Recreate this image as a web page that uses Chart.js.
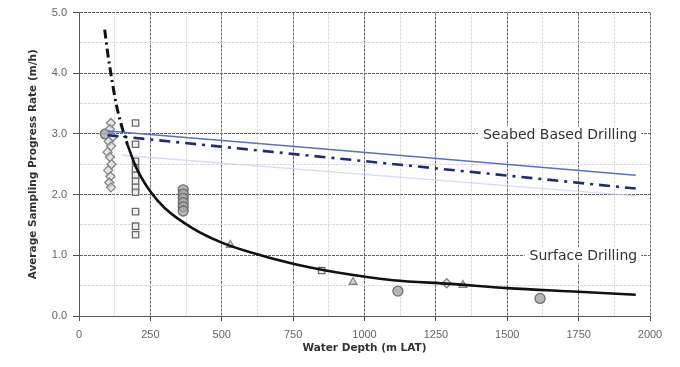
<!DOCTYPE html>
<html>
<head>
<meta charset="utf-8">
<script src="https://cdn.jsdelivr.net/npm/chart.js@4.4.1/dist/chart.umd.min.js"></script>
<style>
  html, body { margin: 0; padding: 0; background: #fff; }
  #wrap { width: 680px; height: 367px; }
</style>
</head>
<body>
<div id="wrap"><canvas id="myChart" width="680" height="367"></canvas></div>
<script>
// surface drilling trend
var surfDashDepth = [90, 100, 115, 130, 150, 170];
var surfDashRate = [4.72, 4.35, 3.9, 3.5, 3.12, 2.82];
var surfDepth = [170, 200, 250, 300, 400, 500, 600, 750, 900, 1100, 1300, 1500, 1750, 1950];
var surfRate = [2.82, 2.45, 2.05, 1.78, 1.44, 1.21, 1.05, 0.86, 0.72, 0.59, 0.53, 0.46, 0.4, 0.35];

// seabed drilling lines
var seabedDepth = [100, 1950];
var seabedSolid = [3.05, 2.32];
var seabedDashDot = [2.98, 2.1];
var faintDepth = [150, 1950];
var faintRate = [2.65, 1.98];

// measured points
var diamondDepth = [112, 108, 118, 104, 112, 100, 108, 114, 102, 110, 106, 112, 1288];
var diamondRate = [3.18, 3.08, 2.95, 2.88, 2.8, 2.7, 2.62, 2.5, 2.4, 2.3, 2.2, 2.12, 0.54];
var squareDepth = [198, 198, 198, 198, 198, 198, 198, 198, 198, 198, 198, 850];
var squareRate = [3.18, 2.83, 2.55, 2.42, 2.32, 2.22, 2.12, 2.04, 1.72, 1.48, 1.34, 0.75];
var circleDepth = [92, 365, 365, 365, 365, 365, 365, 1117, 1615];
var circleRate = [3.0, 2.08, 2.01, 1.94, 1.87, 1.8, 1.73, 0.41, 0.29];
var triangleDepth = [530, 960, 1345];
var triangleRate = [1.17, 0.56, 0.51];

var xTicks = [0, 250, 500, 750, 1000, 1250, 1500, 1750, 2000];
var yTicks = [0, 1, 2, 3, 4, 5];

function pts(xs, ys) {
  return xs.map(function (x, i) { return { x: x, y: ys[i] }; });
}

function lineSet(xs, ys, color, width, dash) {
  return {
    data: pts(xs, ys), showLine: true, pointRadius: 0, borderColor: color,
    borderWidth: width, borderDash: dash || [], cubicInterpolationMode: 'monotone',
    fill: false, order: 0
  };
}

function markSet(xs, ys, style, radius, border, bg) {
  return {
    data: pts(xs, ys), showLine: false, pointStyle: style, pointRadius: radius,
    borderColor: border, backgroundColor: bg, borderWidth: 1.3, order: 1
  };
}

// text labels sitting on the grid lines
var labelPlugin = {
  id: 'lineLabels',
  afterDatasetsDraw: function (chart) {
    var ctx = chart.ctx;
    var xs = chart.scales.x, ys = chart.scales.y;
    var items = [['Seabed Based Drilling', 3.0], ['Surface Drilling', 1.0]];
    ctx.save();
    ctx.font = '14px "DejaVu Sans", sans-serif';
    ctx.textAlign = 'right';
    ctx.textBaseline = 'middle';
    items.forEach(function (it) {
      var px = xs.getPixelForValue(1955);
      var py = ys.getPixelForValue(it[1]);
      var w = ctx.measureText(it[0]).width;
      ctx.fillStyle = '#fff';
      ctx.fillRect(px - w - 5, py - 8, w + 9, 16);
      ctx.fillStyle = '#333';
      ctx.fillText(it[0], px, py + 1);
    });
    ctx.restore();
  }
};

var gridColor = function (c) {
  return (c.tick && c.tick.label !== '') ? '#666' : '#dcdcdc';
};
var tickColor = function (c) {
  return (c.tick && c.tick.label !== '') ? '#555' : 'rgba(0,0,0,0)';
};

new Chart(document.getElementById('myChart'), {
  type: 'scatter',
  data: {
    datasets: [
      lineSet(surfDashDepth, surfDashRate, '#111', 3, [9, 4, 2, 4]),
      lineSet(surfDepth, surfRate, '#111', 2.6),
      lineSet(seabedDepth, seabedSolid, '#5b6fc4', 1.5),
      lineSet(seabedDepth, seabedDashDot, '#1f2b72', 2.6, [11, 6, 3, 6]),
      lineSet(faintDepth, faintRate, 'rgba(200,205,235,0.7)', 1.5),
      markSet(diamondDepth, diamondRate, 'rectRot', 4.5, '#858585', 'rgba(215,215,215,0.6)'),
      markSet(squareDepth, squareRate, 'rect', 4.5, '#6e6e6e', 'rgba(235,235,235,0.8)'),
      markSet(circleDepth, circleRate, 'circle', 5, '#6e6e6e', 'rgba(165,165,165,0.8)'),
      markSet(triangleDepth, triangleRate, 'triangle', 4.5, '#858585', 'rgba(200,200,200,0.7)')
    ]
  },
  options: {
    responsive: false,
    animation: false,
    layout: { padding: { left: 0, right: 30, top: 11, bottom: 0 } },
    plugins: { legend: { display: false }, tooltip: { enabled: false } },
    scales: {
      x: {
        type: 'linear', min: 0, max: 2000,
        afterFit: function (s) { s.height = 51; },
        ticks: {
          stepSize: 125, padding: 7, color: '#666', maxRotation: 0, autoSkip: false,
          font: { family: '"Liberation Sans", Arial, sans-serif', size: 11 },
          callback: function (v) { return xTicks.indexOf(v) >= 0 ? String(v) : ''; }
        },
        grid: { color: gridColor, tickColor: tickColor, tickLength: 5, lineWidth: 1 },
        border: { color: '#555', dash: [3, 1] },
        title: {
          display: true, text: 'Water Depth (m LAT)', color: '#333',
          font: { family: '"DejaVu Sans", sans-serif', size: 10.5, weight: 'bold' },
          padding: { top: 0, bottom: 12 }
        }
      },
      y: {
        type: 'linear', min: 0, max: 5,
        afterFit: function (s) { s.width = 79; },
        ticks: {
          stepSize: 0.5, padding: 6, color: '#666',
          font: { family: '"Liberation Sans", Arial, sans-serif', size: 11 },
          callback: function (v) { return yTicks.indexOf(v) >= 0 ? v.toFixed(1) : ''; }
        },
        grid: { color: gridColor, tickColor: tickColor, tickLength: 6, lineWidth: 1 },
        border: { color: '#555', dash: [3, 1] },
        title: {
          display: true, text: 'Average Sampling Progress Rate (m/h)', color: '#333',
          font: { family: '"DejaVu Sans", sans-serif', size: 10.5, weight: 'bold' },
          padding: { top: 27, bottom: 0 }
        }
      }
    }
  },
  plugins: [labelPlugin]
});
</script>
</body>
</html>
